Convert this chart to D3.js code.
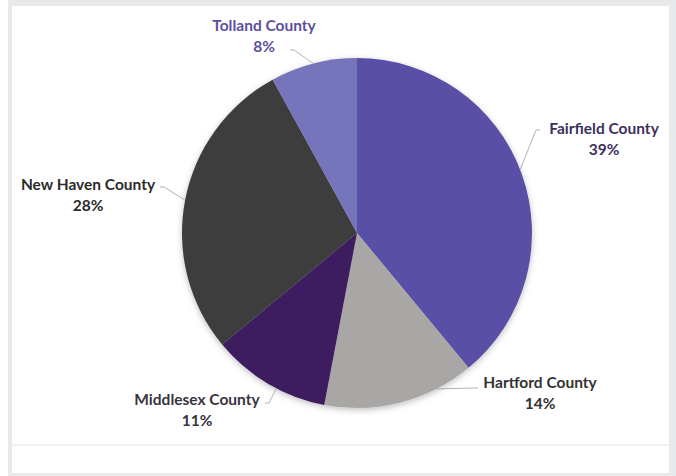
<!DOCTYPE html>
<html>
<head>
<meta charset="utf-8">
<script src="https://cdn.jsdelivr.net/npm/d3@7"></script>
<style>
  body { margin: 0; background: #fff; }
  text { font-family: Lato, "Open Sans", sans-serif; font-weight: bold; }
</style>
</head>
<body>
<div id="chart"></div>
<script>
// Données
const counties = ["Fairfield County", "Hartford County", "Middlesex County", "New Haven County", "Tolland County"];
const shares = [39, 14, 11, 28, 8];
const sliceColors = ["#5a50a6", "#a9a7a5", "#3c1e5f", "#3c3c3c", "#7674bc"];
const labelColors = ["#3e2f5f", "#333333", "#3a3340", "#2b2b2b", "#5c509e"];

const width = 676, height = 476;
const cx = 357, cy = 233, radius = 175;

// Placement des étiquettes (centre du texte, départ du trait, angle sur le camembert)
const labelLayout = [
  { x: 604, y: 134, lx: 540, ly: 130, lineAt: 0.49 },
  { x: 540, y: 388, lx: 478, ly: 388, lineAt: 0.25 },
  { x: 197, y: 405, lx: 265, ly: 403, lineAt: 0.42 },
  { x: 88,  y: 190, lx: 160, ly: 187, lineAt: 0.5 },
  { x: 264, y: 31,  lx: 290, ly: 50,  lineAt: 0.5 }
];

const svg = d3.select("#chart")
  .append("svg")
  .attr("width", width)
  .attr("height", height);

// Cadre gris + panneau blanc
svg.append("rect").attr("x", 8).attr("y", 0).attr("width", width - 8).attr("height", height).attr("fill", "#e8e9eb");
svg.append("rect").attr("x", 12).attr("y", 6).attr("width", 657).attr("height", 467).attr("fill", "#fff");
svg.append("line")
  .attr("x1", 12).attr("x2", 669).attr("y1", 445).attr("y2", 445)
  .attr("stroke", "#e4e4e4").attr("stroke-width", 1.2);

// Ombre légère
const defs = svg.append("defs");
defs.append("filter").attr("id", "shadow")
  .attr("x", "-10%").attr("y", "-10%").attr("width", "120%").attr("height", "120%")
  .append("feDropShadow")
  .attr("dx", 0).attr("dy", 2).attr("stdDeviation", 3)
  .attr("flood-color", "#000").attr("flood-opacity", 0.25);

const pie = d3.pie().sort(null).value(d => d);
const arcs = pie(shares);
const arc = d3.arc().innerRadius(0).outerRadius(radius);

const g = svg.append("g").attr("transform", `translate(${cx},${cy})`);
g.append("g").attr("filter", "url(#shadow)")
  .selectAll("path")
  .data(arcs)
  .join("path")
  .attr("d", arc)
  .attr("fill", (d, i) => sliceColors[i]);

// Traits de rappel
arcs.forEach((d, i) => {
  const L = labelLayout[i];
  const a = d.startAngle + (d.endAngle - d.startAngle) * L.lineAt;
  const px = cx + radius * Math.sin(a);
  const py = cy - radius * Math.cos(a);
  const dir = px > L.lx ? 1 : -1;
  svg.append("polyline")
    .attr("points", [[L.lx, L.ly], [L.lx + dir * 4, L.ly], [px, py]].map(p => p.join(",")).join(" "))
    .attr("fill", "none")
    .attr("stroke", "#a0a0a0")
    .attr("stroke-width", 0.8);
});

// Étiquettes
arcs.forEach((d, i) => {
  const L = labelLayout[i];
  const t = svg.append("text")
    .attr("x", L.x).attr("y", L.y)
    .attr("text-anchor", "middle")
    .attr("font-size", 15.5)
    .attr("fill", labelColors[i]);
  t.append("tspan").attr("x", L.x).text(counties[i]);
  t.append("tspan").attr("x", L.x).attr("dy", 21).text(shares[i] + "%");
});
</script>
</body>
</html>
